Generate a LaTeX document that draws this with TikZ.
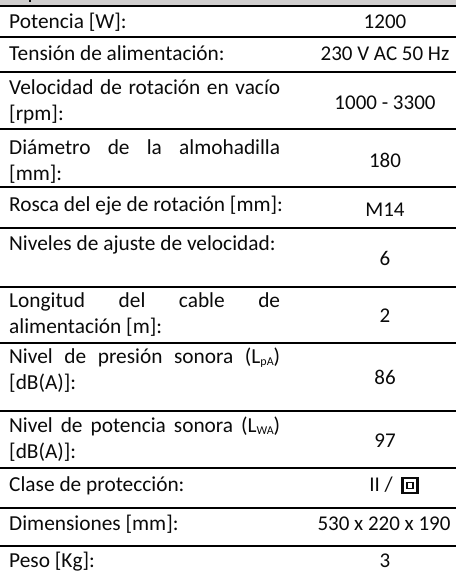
\documentclass[tikz,border=0pt]{standalone}
\usepackage{fontspec}
\setmainfont{Carlito}
\definecolor{hdr}{HTML}{D0CECE}
\definecolor{ink}{HTML}{0A0A0A}
\tikzset{
  rowline/.style={line width=1.8pt,black},
  lab/.style={anchor=base west,inner sep=0pt,text=ink,font=\fontsize{21.35pt}{24pt}\selectfont},
  val/.style={anchor=base,inner sep=0pt,text=ink,font=\fontsize{21pt}{24pt}\selectfont},
}
\newcommand{\just}[1]{\makebox[271pt][s]{#1}}
\newcommand{\lsub}[1]{\raisebox{-2.5pt}{\fontsize{12pt}{12pt}\selectfont #1}}
\begin{document}
\begin{tikzpicture}[x=1pt,y=-1pt]
\useasboundingbox (0,0) rectangle (456,576);
\fill[hdr] (0,0) rectangle (456,6);
\fill[ink] (28.5,0) rectangle (31,2);
\foreach \y in {6,37,72,129,187,228,287,343,411,468,508,546}
  \draw[rowline] (0,\y) -- (456,\y);
\node[lab] (l1) at (9,28) {Potencia [W]:};
\node[val] (v1) at (385,28) {1200};
\node[lab] (l2) at (9,60) {Tensión de alimentación:};
\node[val] (v2) at (385,60) {230 V AC 50 Hz};
\node[lab] (l3a) at (9,94) {\just{Velocidad de rotación en vacío}};
\node[lab] (l3b) at (9,120) {[rpm]:};
\node[val] (v3) at (385,109) {1000 - 3300};
\node[lab] (l4a) at (9,154) {\just{Diámetro de la almohadilla}};
\node[lab] (l4b) at (9,180) {[mm]:};
\node[val] (v4) at (385,167) {180};
\node[lab] (l5) at (9,211) {Rosca del eje de rotación [mm]:};
\node[val] (v5) at (385,216) {M14};
\node[lab] (l6) at (9,250) {Niveles de ajuste de velocidad:};
\node[val] (v6) at (385,265) {6};
\node[lab] (l7a) at (9,307) {\just{Longitud del cable de}};
\node[lab] (l7b) at (9,333) {alimentación [m]:};
\node[val] (v7) at (385,322) {2};
\node[lab] (l8a) at (9,363) {\just{Nivel de presión sonora (L\lsub{pA})}};
\node[lab] (l8b) at (9,389) {[dB(A)]:};
\node[val] (v8) at (385,384) {86};
\node[lab] (l9a) at (9,432) {\just{Nivel de potencia sonora (L\lsub{WA})}};
\node[lab] (l9b) at (9,458) {[dB(A)]:};
\node[val] (v9) at (385,447) {97};
\node[lab] (l10) at (9,491) {Clase de protección:};
\node[val] (v10) at (381,491) {II /};
\node[draw=ink,line width=2.2pt,minimum size=15pt,inner sep=0pt] (p1) at (410,485.5) {};
\node[draw=ink,line width=1.8pt,minimum size=6pt,inner sep=0pt] (p2) at (410,485.5) {};
\node[lab] (l11) at (9,530) {Dimensiones [mm]:};
\node[val] (v11) at (384,530) {530 x 220 x 190};
\node[lab] (l12) at (9,567) {Peso [Kg]:};
\node[val] (v12) at (385,567) {3};
\end{tikzpicture}
\end{document}
